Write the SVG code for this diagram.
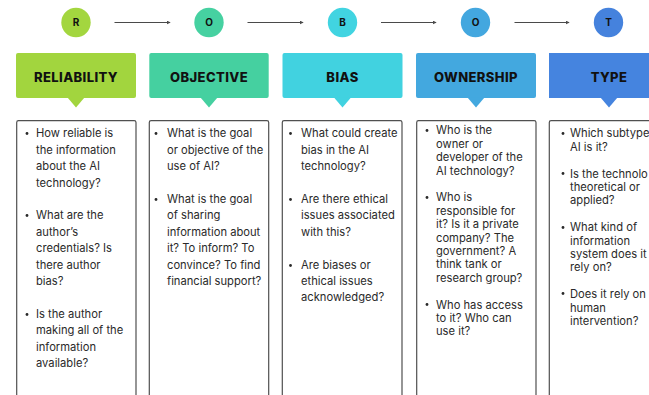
<svg xmlns="http://www.w3.org/2000/svg" width="649" height="395" viewBox="0 0 649 395">
<defs>
<style>
.bg{fill:#ffffff}
.circ-t{font-family:Inter,"Liberation Sans",sans-serif;font-weight:700;font-size:10px;fill:#111;text-anchor:middle}
.hdr-t{font-family:Inter,"Liberation Sans",sans-serif;font-weight:800;font-size:13px;letter-spacing:0.4px;fill:#111;text-anchor:middle}
.box{fill:#ffffff;stroke:#505050;stroke-width:1.2}
.body{font-family:Inter,"Liberation Sans",sans-serif;font-size:11.2px;fill:#2a2a2a}
.dot{fill:#2a2a2a}
.conn{stroke:#4a4a4a;stroke-width:1.1;fill:none;marker-end:url(#ah)}
</style>
<marker id="ah" viewBox="0 0 6 6" refX="5" refY="3" markerWidth="4" markerHeight="4" orient="auto" markerUnits="userSpaceOnUse">
<path d="M0,0 L6,3 L0,6 z" fill="#4a4a4a"/>
</marker>
</defs>
<rect class="bg" x="0" y="0" width="649" height="395"/>

<g id="connectors">
<line class="conn" x1="114.5" y1="22.5" x2="170" y2="22.5"/>
<line class="conn" x1="247.5" y1="22.5" x2="303" y2="22.5"/>
<line class="conn" x1="381" y1="22.5" x2="436" y2="22.5"/>
<line class="conn" x1="514.5" y1="22.5" x2="569" y2="22.5"/>
</g>

<g id="reliability">
<circle cx="76" cy="22.5" r="14.7" fill="#a3d63f"/>
<text class="circ-t" x="76" y="26">R</text>
<rect x="16" y="53" width="120" height="45" rx="2" fill="#a2d53e"/>
<path d="M67.5,97.5 L84.5,97.5 L76,107.5 z" fill="#a2d53e"/>
<text class="hdr-t" x="76" y="82">RELIABILITY</text>
<path class="box" d="M16.7,396 V122.5 Q16.7,120.7 18.5,120.7 H134.2 Q136,120.7 136,122.5 V396"/>
<g class="dot"><circle cx="27" cy="133.5" r="1.4"/><circle cx="27" cy="215.5" r="1.4"/><circle cx="27" cy="314.5" r="1.4"/></g>
<text class="body">
<tspan x="36" y="137.3">How reliable is</tspan>
<tspan x="36" dy="16.4">the information</tspan>
<tspan x="36" dy="16.4">about the AI</tspan>
<tspan x="36" dy="16.4">technology?</tspan>
<tspan x="36" dy="32.8">What are the</tspan>
<tspan x="36" dy="16.4">author’s</tspan>
<tspan x="36" dy="16.4">credentials? Is</tspan>
<tspan x="36" dy="16.4">there author</tspan>
<tspan x="36" dy="16.4">bias?</tspan>
<tspan x="36" dy="32.8">Is the author</tspan>
<tspan x="36" dy="16.4">making all of the</tspan>
<tspan x="36" dy="16.4">information</tspan>
<tspan x="36" dy="16.4">available?</tspan>
</text>
</g>

<g id="objective">
<circle cx="209" cy="22.5" r="14.7" fill="#46d1a1"/>
<text class="circ-t" x="209" y="26">O</text>
<rect x="149.3" y="53" width="119.4" height="45" rx="2" fill="#45d0a0"/>
<path d="M200.5,97.5 L217.5,97.5 L209,107.5 z" fill="#45d0a0"/>
<text class="hdr-t" x="209" y="82">OBJECTIVE</text>
<path class="box" d="M149.3,396 V122.5 Q149.3,120.7 151.1,120.7 H266.9 Q268.7,120.7 268.7,122.5 V396"/>
<g class="dot"><circle cx="156" cy="133.5" r="1.4"/><circle cx="156" cy="199.5" r="1.4"/></g>
<text class="body">
<tspan x="167" y="137.3">What is the goal</tspan>
<tspan x="167" dy="16.4">or objective of the</tspan>
<tspan x="167" dy="16.4">use of AI?</tspan>
<tspan x="167" dy="32.8">What is the goal</tspan>
<tspan x="167" dy="16.4">of sharing</tspan>
<tspan x="167" dy="16.4">information about</tspan>
<tspan x="167" dy="16.4">it? To inform? To</tspan>
<tspan x="167" dy="16.4">convince? To find</tspan>
<tspan x="167" dy="16.4">financial support?</tspan>
</text>
</g>

<g id="bias">
<circle cx="342.5" cy="22.5" r="14.7" fill="#41d4e1"/>
<text class="circ-t" x="342.5" y="26">B</text>
<rect x="282.5" y="53" width="120" height="45" rx="2" fill="#41d2e0"/>
<path d="M334,97.5 L351,97.5 L342.5,107.5 z" fill="#41d2e0"/>
<text class="hdr-t" x="342.5" y="82">BIAS</text>
<path class="box" d="M282.3,396 V122.5 Q282.3,120.7 284.1,120.7 H400.2 Q402,120.7 402,122.5 V396"/>
<g class="dot"><circle cx="290.5" cy="133.5" r="1.4"/><circle cx="290.5" cy="199.5" r="1.4"/><circle cx="290.5" cy="265.5" r="1.4"/></g>
<text class="body">
<tspan x="301" y="137.3">What could create</tspan>
<tspan x="301" dy="16.4">bias in the AI</tspan>
<tspan x="301" dy="16.4">technology?</tspan>
<tspan x="301" dy="32.8">Are there ethical</tspan>
<tspan x="301" dy="16.4">issues associated</tspan>
<tspan x="301" dy="16.4">with this?</tspan>
<tspan x="301" dy="32.8">Are biases or</tspan>
<tspan x="301" dy="16.4">ethical issues</tspan>
<tspan x="301" dy="16.4">acknowledged?</tspan>
</text>
</g>

<g id="ownership">
<circle cx="475.5" cy="22.5" r="14.7" fill="#43a7df"/>
<text class="circ-t" x="475.5" y="26">O</text>
<rect x="416" y="53" width="120" height="45" rx="2" fill="#43a8df"/>
<path d="M467.5,97.5 L484.5,97.5 L476,107.5 z" fill="#43a8df"/>
<text class="hdr-t" x="476" y="82">OWNERSHIP</text>
<path class="box" d="M416.7,396 V122.5 Q416.7,120.7 418.5,120.7 H534.2 Q536,120.7 536,122.5 V396"/>
<g class="dot"><circle cx="427" cy="130.5" r="1.4"/><circle cx="427" cy="197.5" r="1.4"/><circle cx="427" cy="304.5" r="1.4"/></g>
<text class="body">
<tspan x="436" y="134.3">Who is the</tspan>
<tspan x="436" dy="13.4">owner or</tspan>
<tspan x="436" dy="13.4">developer of the</tspan>
<tspan x="436" dy="13.4">AI technology?</tspan>
<tspan x="436" dy="26.8">Who is</tspan>
<tspan x="436" dy="13.4">responsible for</tspan>
<tspan x="436" dy="13.4">it? Is it a private</tspan>
<tspan x="436" dy="13.4">company? The</tspan>
<tspan x="436" dy="13.4">government? A</tspan>
<tspan x="436" dy="13.4">think tank or</tspan>
<tspan x="436" dy="13.4">research group?</tspan>
<tspan x="436" dy="26.8">Who has access</tspan>
<tspan x="436" dy="13.4">to it? Who can</tspan>
<tspan x="436" dy="13.4">use it?</tspan>
</text>
</g>

<g id="type">
<circle cx="608.5" cy="22.5" r="14.7" fill="#4582dd"/>
<text class="circ-t" x="608.5" y="26">T</text>
<rect x="549" y="53" width="100" height="45" fill="#4584df"/>
<path d="M600.5,97.5 L617.5,97.5 L609,107.5 z" fill="#4584df"/>
<text class="hdr-t" x="609" y="82">TYPE</text>
<path class="box" d="M549.3,396 V122.5 Q549.3,120.7 551.1,120.7 H649"/>
<g class="dot"><circle cx="563" cy="133.5" r="1.4"/><circle cx="563" cy="173.5" r="1.4"/><circle cx="563" cy="227.5" r="1.4"/><circle cx="563" cy="293.5" r="1.4"/></g>
<text class="body">
<tspan x="570" y="137.3">Which subtype</tspan>
<tspan x="570" dy="13.4">AI is it?</tspan>
<tspan x="570" dy="26.8">Is the technolo</tspan>
<tspan x="570" dy="13.4">theoretical or</tspan>
<tspan x="570" dy="13.4">applied?</tspan>
<tspan x="570" dy="26.8">What kind of</tspan>
<tspan x="570" dy="13.4">information</tspan>
<tspan x="570" dy="13.4">system does it</tspan>
<tspan x="570" dy="13.4">rely on?</tspan>
<tspan x="570" dy="26.8">Does it rely on</tspan>
<tspan x="570" dy="13.4">human</tspan>
<tspan x="570" dy="13.4">intervention?</tspan>
</text>
</g>
</svg>
